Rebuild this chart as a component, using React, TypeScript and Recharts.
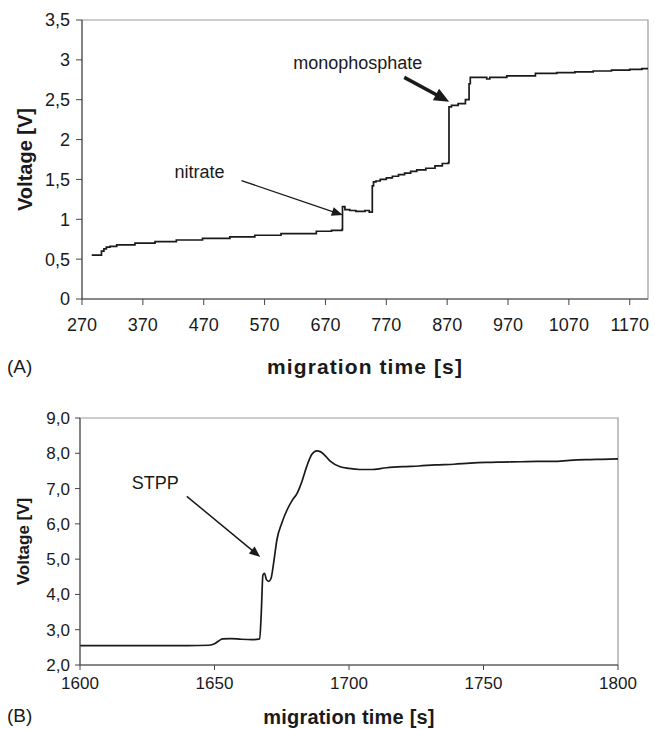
import React from "react";
import {
  LineChart,
  Line,
  XAxis,
  YAxis,
  ReferenceArea,
  ReferenceLine,
  ReferenceDot,
} from "recharts";

// panel A: stepwise isotachophoretic record
const timeA = [
  286, 302, 306, 310, 316, 327, 357, 390, 425, 468, 513, 554, 597, 655, 680,
  697, 698, 702, 710, 720, 735, 742, 747, 749, 753, 760, 770, 780, 790, 800,
  810, 820, 835, 850, 862, 872, 873, 877, 888, 900, 906, 908, 930, 935, 940,
  968, 1015, 1050, 1080, 1110, 1140, 1170, 1190, 1200,
];
const voltA = [
  0.55, 0.6, 0.63, 0.65, 0.66, 0.68, 0.7, 0.72, 0.74, 0.76, 0.78, 0.8, 0.82,
  0.85, 0.86, 0.87, 1.16, 1.12, 1.11, 1.1, 1.11, 1.09, 1.42, 1.47, 1.48, 1.5,
  1.52, 1.54, 1.56, 1.58, 1.6, 1.62, 1.64, 1.67, 1.7, 1.71, 2.41, 2.43, 2.45,
  2.5, 2.7, 2.78, 2.78, 2.76, 2.78, 2.8, 2.83, 2.84, 2.85, 2.86, 2.87, 2.88,
  2.89, 2.89,
];
const ticksXA = [270, 370, 470, 570, 670, 770, 870, 970, 1070, 1170];
const ticksYA = [0, 0.5, 1, 1.5, 2, 2.5, 3, 3.5];

// panel B: STPP zone
const timeB = [
  1600, 1610, 1620, 1630, 1640, 1648, 1650, 1651.5, 1653, 1656, 1660, 1664,
  1666.8, 1667.4, 1668, 1668.6, 1669.3, 1670.2, 1671, 1672, 1673.2, 1675, 1677,
  1679, 1680.6, 1681.5, 1682.5, 1684.3, 1686.2, 1688, 1689.5, 1691, 1693,
  1696.7, 1700, 1704, 1708, 1714, 1720, 1726, 1732, 1739, 1745, 1751, 1757,
  1764, 1770, 1776, 1782, 1788, 1794, 1800,
];
const voltB = [
  2.55, 2.55, 2.55, 2.55, 2.55, 2.56, 2.6, 2.68, 2.74, 2.75, 2.73, 2.72, 2.74,
  3.5, 4.55, 4.6, 4.42, 4.37, 4.45, 4.9, 5.55, 6.02, 6.4, 6.68, 6.85, 7.0, 7.2,
  7.63, 7.97, 8.07, 8.04, 7.94, 7.78, 7.62, 7.57, 7.54, 7.54, 7.59, 7.62, 7.64,
  7.67, 7.69, 7.72, 7.74, 7.75, 7.76, 7.77, 7.77, 7.8, 7.82, 7.83, 7.84,
];
const ticksXB = [1600, 1650, 1700, 1750, 1800];
const ticksYB = [2, 3, 4, 5, 6, 7, 8, 9];

const notesA = [
  { text: "nitrate", t: 463, v: 1.6, from: [532, 1.485], to: [698.4, 1.054], bold: false },
  { text: "monophosphate", t: 723, v: 2.97, from: [799.5, 2.78], to: [873.3, 2.475], bold: true },
];
const notesB = [
  { text: "STPP", t: 1628, v: 7.16, from: [1639.7, 6.78], to: [1667, 5.06], bold: false },
];

const dataA = timeA.map((t, i) => ({ t, v: voltA[i] }));
const dataB = timeB.map((t, i) => ({ t, v: voltB[i] }));

const FONT = "'Liberation Sans', Arial, sans-serif";
const INK = "#1a1a1a";

const arrow = (head: number, width: number, sw: number) => (p: any) => {
  const { x1, y1, x2, y2 } = p;
  const dx = x2 - x1;
  const dy = y2 - y1;
  const len = Math.hypot(dx, dy) || 1;
  const ux = dx / len;
  const uy = dy / len;
  const bx = x2 - ux * head;
  const by = y2 - uy * head;
  const px = (-uy * width) / 2;
  const py = (ux * width) / 2;
  return (
    <g>
      <line x1={x1} y1={y1} x2={bx + ux} y2={by + uy} stroke={INK} strokeWidth={sw} />
      <polygon points={`${x2},${y2} ${bx + px},${by + py} ${bx - px},${by - py}`} fill={INK} />
    </g>
  );
};

const yTitle = (text: string, x: number, size: number) => (props: any) => {
  const vb = props.viewBox;
  const cy = vb.y + vb.height / 2;
  return (
    <text
      x={x}
      y={cy}
      transform={`rotate(-90, ${x}, ${cy})`}
      textAnchor="middle"
      dominantBaseline="central"
      fontFamily={FONT}
      fontWeight="bold"
      fontSize={size}
      fill={INK}
    >
      {text}
    </text>
  );
};

const xTitle = (text: string, baseline: number, size: number, spacing: number) => (props: any) => {
  const vb = props.viewBox;
  return (
    <text
      x={vb.x + vb.width / 2}
      y={vb.y + vb.height - baseline}
      textAnchor="middle"
      fontFamily={FONT}
      fontWeight="bold"
      fontSize={size}
      letterSpacing={spacing}
      fill={INK}
    >
      {text}
    </text>
  );
};

const commaFmt = (v: number) => String(v).replace(".", ",");
const commaFmt1 = (v: number) => v.toFixed(1).replace(".", ",");

const panelLabel = (text: string, top: number) => (
  <div
    style={{
      position: "absolute",
      left: 7,
      top,
      fontFamily: FONT,
      fontSize: 19,
      color: INK,
      lineHeight: 1,
    }}
  >
    {text}
  </div>
);

export default function App() {
  return (
    <div
      style={{
        position: "fixed",
        left: 0,
        top: 0,
        width: 655,
        height: 729,
        overflow: "hidden",
        background: "#fff",
      }}
    >
      <div style={{ position: "absolute", left: 0, top: 0 }}>
        <LineChart
          width={655}
          height={380}
          data={dataA}
          margin={{ top: 20, right: 7, left: 0, bottom: 0 }}
        >
          <XAxis
            dataKey="t"
            type="number"
            domain={[270, 1200]}
            ticks={ticksXA}
            allowDataOverflow
            height={81}
            tickSize={6}
            tickMargin={13}
            stroke="#444"
            tick={{ fill: INK, fontSize: 18, fontFamily: FONT }}
            label={xTitle("migration time [s]", 6, 21, 1.1)}
          />
          <YAxis
            type="number"
            domain={[0, 3.5]}
            ticks={ticksYA}
            width={82}
            tickSize={6}
            tickMargin={6}
            stroke="#444"
            tickFormatter={commaFmt}
            tick={{ fill: INK, fontSize: 18, fontFamily: FONT }}
            label={yTitle("Voltage [V]", 25, 20)}
          />
          <ReferenceArea x1={270} x2={1200} y1={0} y2={3.5} fill="none" stroke="#999" strokeWidth={1.2} />
          <Line
            dataKey="v"
            type="stepAfter"
            stroke={INK}
            strokeWidth={1.7}
            dot={false}
            isAnimationActive={false}
          />
          {notesA.map((n) => (
            <ReferenceLine
              key={n.text + "-arrow"}
              segment={[
                { x: n.from[0], y: n.from[1] },
                { x: n.to[0], y: n.to[1] },
              ]}
              shape={n.bold ? arrow(15, 13, 3.5) : arrow(11, 9, 1.3)}
            />
          ))}
          {notesA.map((n) => (
            <ReferenceDot
              key={n.text}
              x={n.t}
              y={n.v}
              r={0}
              fill="none"
              stroke="none"
              label={{ value: n.text, position: "center", fill: INK, fontSize: 18, fontFamily: FONT }}
            />
          ))}
        </LineChart>
      </div>
      {panelLabel("(A)", 357)}

      <div style={{ position: "absolute", left: 0, top: 380 }}>
        <LineChart
          width={655}
          height={349}
          data={dataB}
          margin={{ top: 38, right: 37, left: 0, bottom: 0 }}
        >
          <XAxis
            dataKey="t"
            type="number"
            domain={[1600, 1800]}
            ticks={ticksXB}
            allowDataOverflow
            height={64}
            tickSize={5}
            tickMargin={7}
            stroke="#444"
            tick={{ fill: INK, fontSize: 17, fontFamily: FONT }}
            label={xTitle("migration time [s]", 5, 20, 0.2)}
          />
          <YAxis
            type="number"
            domain={[2, 9]}
            ticks={ticksYB}
            width={80}
            tickSize={5}
            tickMargin={5}
            stroke="#444"
            tickFormatter={commaFmt1}
            tick={{ fill: INK, fontSize: 17, fontFamily: FONT }}
            label={yTitle("Voltage [V]", 23, 17)}
          />
          <ReferenceArea x1={1600} x2={1800} y1={2} y2={9} fill="none" stroke="#999" strokeWidth={1.2} />
          <Line
            dataKey="v"
            type="monotone"
            stroke={INK}
            strokeWidth={1.7}
            dot={false}
            isAnimationActive={false}
          />
          {notesB.map((n) => (
            <ReferenceLine
              key={n.text + "-arrow"}
              segment={[
                { x: n.from[0], y: n.from[1] },
                { x: n.to[0], y: n.to[1] },
              ]}
              shape={arrow(11, 9, 1.5)}
            />
          ))}
          {notesB.map((n) => (
            <ReferenceDot
              key={n.text}
              x={n.t}
              y={n.v}
              r={0}
              fill="none"
              stroke="none"
              label={{ value: n.text, position: "center", fill: INK, fontSize: 18, fontFamily: FONT }}
            />
          ))}
        </LineChart>
      </div>
      {panelLabel("(B)", 706)}
    </div>
  );
}
